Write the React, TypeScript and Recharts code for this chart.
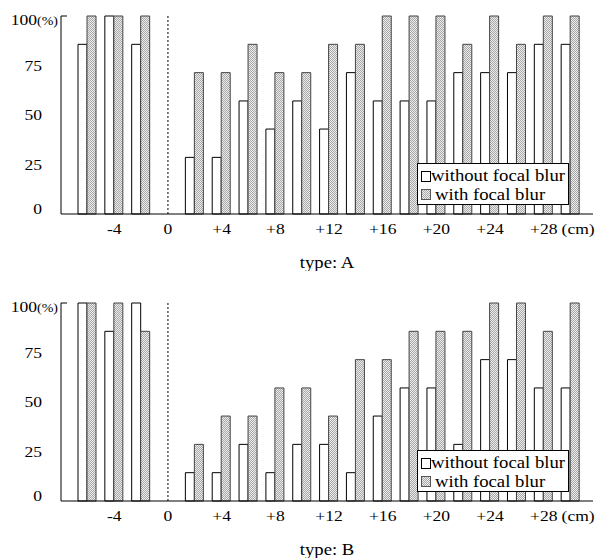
import React from 'react';
import { BarChart, Bar, XAxis, YAxis, ReferenceLine } from 'recharts';

// distance from the focal plane (cm), one pair of bars each
const positions = [-6, -4, -2, 0, 2, 4, 6, 8, 10, 12, 14, 16, 18, 20, 22, 24, 26, 28, 30];
const labeledPositions = [-4, 0, 4, 8, 12, 16, 20, 24, 28];
const yTicks = [0, 25, 50, 75, 100];
const seriesNames = ['without focal blur', 'with focal blur'];

// type A (%)
const withoutBlurA = [85.7, 100, 85.7, null, 28.6, 28.6, 57.1, 42.9, 57.1, 42.9, 71.4, 57.1, 57.1, 57.1, 71.4, 71.4, 71.4, 85.7, 85.7];
const withBlurA = [100, 100, 100, null, 71.4, 71.4, 85.7, 71.4, 71.4, 85.7, 85.7, 100, 100, 100, 85.7, 100, 85.7, 100, 100];

// type B (%)
const withoutBlurB = [100, 85.7, 100, null, 14.3, 14.3, 28.6, 14.3, 28.6, 28.6, 14.3, 42.9, 57.1, 57.1, 28.6, 71.4, 71.4, 57.1, 57.1];
const withBlurB = [100, 100, 85.7, null, 28.6, 42.9, 42.9, 57.1, 57.1, 42.9, 71.4, 71.4, 85.7, 85.7, 85.7, 100, 100, 85.7, 100];

const FONT = '"Liberation Serif", "Times New Roman", serif';
const SX = 1.17; // the original type is a little wider than Times

const Hatch = ({ id }: { id: string }) => (
  <pattern id={id} width={2} height={2} patternUnits="userSpaceOnUse">
    <rect width={2} height={2} fill="#ececec" />
    <rect width={1} height={1} fill="#a8a8a8" />
    <rect x={1} y={1} width={1} height={1} fill="#a8a8a8" />
  </pattern>
);

const XTick = (props: any) => {
  const { x, y, payload } = props;
  const v = payload.value;
  if (v === 30) {
    return (
      <g transform={`translate(${x - 9},${y + 20}) scale(${SX},1)`}>
        <text textAnchor="start" fontFamily={FONT} fontSize={15} fill="#000">(cm)</text>
      </g>
    );
  }
  if (!labeledPositions.includes(v)) return null;
  const label = v > 0 ? `+${v}` : String(v);
  return (
    <g transform={`translate(${x},${y + 20}) scale(${SX},1)`}>
      <text textAnchor="middle" fontFamily={FONT} fontSize={15} fill="#000">{label}</text>
    </g>
  );
};

const YTick = (props: any) => {
  const { x, y, payload } = props;
  const v = payload.value;
  if (v === 100) {
    return (
      <g>
        <line x1={x} y1={y} x2={x + 6} y2={y} stroke="#000" />
        <g transform={`translate(${x - 3},${y + 9}) scale(${SX},1)`}>
          <text textAnchor="end" fontFamily={FONT} fontSize={15} fill="#000">
            100<tspan fontSize={12}>(%)</tspan>
          </text>
        </g>
      </g>
    );
  }
  const dy = v === 0 ? 0 : 5;
  return (
    <g transform={`translate(${x - 19},${y + dy}) scale(${SX},1)`}>
      <text textAnchor="end" fontFamily={FONT} fontSize={15} fill="#000">{v}</text>
    </g>
  );
};

const LegendBox = () => (
  <svg width={152} height={42} style={{ position: 'absolute', left: 417, top: 163, display: 'block' }}>
    <defs>
      <Hatch id="hatchLegend" />
    </defs>
    <rect x={0.5} y={0.5} width={151} height={41} fill="#fff" stroke="#000" />
    <rect x={4.5} y={8.5} width={9} height={10} fill="#fff" stroke="#000" />
    <g transform={`translate(14,18) scale(${SX},1)`}>
      <text fontFamily={FONT} fontSize={16} fill="#000">{seriesNames[0]}</text>
    </g>
    <rect x={4.5} y={26.5} width={9} height={10} fill="url(#hatchLegend)" stroke="#555" />
    <g transform={`translate(18,37) scale(${SX},1)`}>
      <text fontFamily={FONT} fontSize={16} fill="#000">{seriesNames[1]}</text>
    </g>
  </svg>
);

const Panel = ({ id, without, withBlur }: { id: string; without: (number | null)[]; withBlur: (number | null)[] }) => {
  const rows = positions.map((pos, i) => ({ pos, without: without[i], withBlur: withBlur[i] }));
  return (
    <div style={{ position: 'relative', width: 599, height: 240 }}>
      <BarChart
        width={599}
        height={240}
        data={rows}
        margin={{ top: 16, right: 6, bottom: 0, left: 0 }}
        barGap={0}
        barSize={9}
      >
        <defs>
          <Hatch id={`hatch${id}`} />
        </defs>
        <XAxis
          dataKey="pos"
          type="category"
          height={26}
          padding={{ left: 13, right: 9 }}
          interval={0}
          tickLine={false}
          tickSize={0}
          tickMargin={0}
          axisLine={{ stroke: '#000' }}
          tick={<XTick />}
        />
        <YAxis
          domain={[0, 100]}
          ticks={yTicks}
          width={61}
          tickLine={false}
          tickSize={0}
          tickMargin={0}
          axisLine={{ stroke: '#000' }}
          tick={<YTick />}
        />
        <ReferenceLine x={0} stroke="#000" strokeDasharray="2 2" />
        <Bar dataKey="without" name={seriesNames[0]} fill="#fff" stroke="#000" isAnimationActive={false} />
        <Bar dataKey="withBlur" name={seriesNames[1]} fill={`url(#hatch${id})`} stroke="#444" isAnimationActive={false} />
      </BarChart>
      <LegendBox />
    </div>
  );
};

const Title = ({ text, top }: { text: string; top: number }) => (
  <svg width={599} height={31} style={{ position: 'absolute', left: 0, top }}>
    <g transform={`translate(327,28) scale(${SX},1)`}>
      <text textAnchor="middle" fontFamily={FONT} fontSize={16} fill="#000">{text}</text>
    </g>
  </svg>
);

export default function App() {
  return (
    <div style={{ position: 'absolute', left: 0, top: 0, width: 599, height: 558, background: '#fff' }}>
      <div style={{ position: 'absolute', left: 0, top: 0 }}>
        <Panel id="A" without={withoutBlurA} withBlur={withBlurA} />
      </div>
      <Title text="type: A" top={240} />
      <div style={{ position: 'absolute', left: 0, top: 287 }}>
        <Panel id="B" without={withoutBlurB} withBlur={withBlurB} />
      </div>
      <Title text="type: B" top={527} />
    </div>
  );
}
